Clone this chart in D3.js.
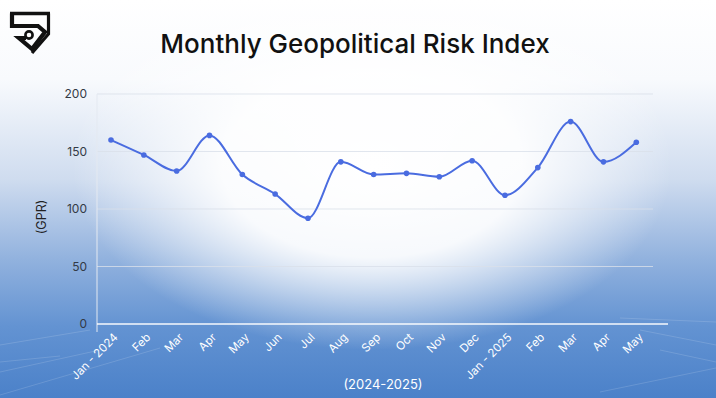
<!DOCTYPE html>
<html><head><meta charset="utf-8">
<script src="https://cdn.jsdelivr.net/npm/d3@7"></script>
<style>html,body{margin:0;padding:0;background:#fff;}svg{display:block;}</style>
</head><body>
<script>
const categories = ["Jan - 2024","Feb","Mar","Apr","May","Jun","Jul","Aug","Sep","Oct","Nov","Dec","Jan - 2025","Feb","Mar","Apr","May"];
const gprValues = [160,147,133,164,130,113,92,141,130,131,128,142,112,136,176,141,158];
const yTicks = [0,50,100,150,200];
const titleText = "Monthly Geopolitical Risk Index";
const yLabel = "(GPR)";
const xLabel = "(2024-2025)";

const W = 716, H = 398;
const svg = d3.select("body").append("svg").attr("width", W).attr("height", H);
const defs = svg.append("defs");

// background gradients
const lg = defs.append("linearGradient").attr("id","bg").attr("x1",0).attr("y1",0).attr("x2",0).attr("y2",1);
[[0,"#ffffff"],[0.2,"#f8fafd"],[0.45,"#cfdcef"],[0.65,"#92b2de"],[0.82,"#6393d2"],[1,"#4b81c9"]]
  .forEach(([o,c])=>lg.append("stop").attr("offset",o).attr("stop-color",c));
const rg = defs.append("radialGradient").attr("id","glow").attr("cx",0.5).attr("cy",0.5).attr("r",0.5);
[[0,"#ffffff",1],[0.5,"#ffffff",0.92],[0.78,"#ffffff",0.4],[1,"#ffffff",0]]
  .forEach(([o,c,a])=>rg.append("stop").attr("offset",o).attr("stop-color",c).attr("stop-opacity",a));
svg.append("rect").attr("width",W).attr("height",H).attr("fill","url(#bg)");
svg.append("ellipse").attr("cx",372).attr("cy",165).attr("rx",300).attr("ry",185).attr("fill","url(#glow)");

// faint perspective lines in the bottom corners
const deco = svg.append("g").attr("stroke","#ffffff").attr("stroke-opacity",0.14).attr("stroke-width",1);
[[0,345,90,330],[0,372,100,350],[0,395,160,348],[0,362,60,356],[640,330,716,345],[660,350,716,362],[600,392,716,368],[620,318,716,322]]
  .forEach(d=>deco.append("line").attr("x1",d[0]).attr("y1",d[1]).attr("x2",d[2]).attr("y2",d[3]));

// logo
const logo = svg.append("g").attr("transform","translate(10,12)");
logo.append("path").attr("d","M0,1.5 H40")
  .attr("fill","none").attr("stroke","#111").attr("stroke-width",3.5);
logo.append("path").attr("d","M2,1.5 V14 H28 L35,20 L22,37 L9,26 H16")
  .attr("fill","none").attr("stroke","#111").attr("stroke-width",4.2).attr("stroke-linejoin","miter");
logo.append("path").attr("d","M38.5,1.5 V22 L22,41")
  .attr("fill","none").attr("stroke","#111").attr("stroke-width",3.2);
logo.append("circle").attr("cx",19).attr("cy",23).attr("r",3.6).attr("fill","#fff").attr("stroke","#111").attr("stroke-width",2.6);

// title
svg.append("text").attr("x",355).attr("y",53).attr("text-anchor","middle")
  .attr("font-family","Inter, 'Open Sans', sans-serif").attr("font-size",26).attr("font-weight",500).attr("fill","#111")
  .text(titleText);

// scales
const x = d3.scalePoint().domain(d3.range(categories.length)).range([111,636.3]);
const y = d3.scaleLinear().domain([0,200]).range([324,94]);
const left = 97, gridRight = 653, zeroRight = 668;

// grid
svg.append("g").selectAll("line").data(yTicks.filter(t=>t>0)).join("line")
  .attr("x1",left).attr("x2",gridRight).attr("y1",d=>y(d)).attr("y2",d=>y(d))
  .attr("stroke","#d9e0ea").attr("stroke-opacity",0.8).attr("stroke-width",1);
// vertical axis line
svg.append("line").attr("x1",left).attr("x2",left).attr("y1",y(200)).attr("y2",332)
  .attr("stroke","#e4e9f1").attr("stroke-width",1);
// zero line
svg.append("line").attr("x1",left).attr("x2",zeroRight).attr("y1",y(0)).attr("y2",y(0))
  .attr("stroke","#ffffff").attr("stroke-opacity",0.7).attr("stroke-width",2);

// y axis
const yAxis = d3.axisLeft(y).tickValues(yTicks).tickSize(0).tickPadding(10);
const ya = svg.append("g").attr("transform",`translate(${left},0)`).call(yAxis);
ya.select(".domain").remove();
ya.selectAll("text").attr("font-family","Inter, 'Open Sans', sans-serif").attr("font-size",12).attr("fill","#333a45");

// x axis
const xAxis = d3.axisBottom(x).tickFormat(i=>categories[i]).tickSize(0).tickPadding(0);
const xa = svg.append("g").attr("transform",`translate(0,${y(0)})`).call(xAxis);
xa.select(".domain").remove();
xa.selectAll("text").attr("font-family","Inter, 'Open Sans', sans-serif").attr("font-size",11.5).attr("fill","#ffffff")
  .attr("text-anchor","end").attr("dy",0).attr("y",0)
  .attr("transform","translate(7,14) rotate(-45)");

// axis titles
svg.append("text").attr("transform","translate(46,217) rotate(-90)").attr("text-anchor","middle")
  .attr("font-family","Inter, 'Open Sans', sans-serif").attr("font-size",12.5).attr("fill","#222").text(yLabel);
svg.append("text").attr("x",383).attr("y",389).attr("text-anchor","middle")
  .attr("font-family","Inter, 'Open Sans', sans-serif").attr("font-size",13).attr("fill","#ffffff").text(xLabel);

// line
const line = d3.line().x((d,i)=>x(i)).y(d=>y(d)).curve(d3.curveMonotoneX);
svg.append("path").datum(gprValues).attr("d",line).attr("fill","none")
  .attr("stroke","#4a6ce0").attr("stroke-width",2);
svg.append("g").selectAll("circle").data(gprValues).join("circle")
  .attr("cx",(d,i)=>x(i)).attr("cy",d=>y(d)).attr("r",2.8).attr("fill","#4a6ce0");
</script>
</body></html>
